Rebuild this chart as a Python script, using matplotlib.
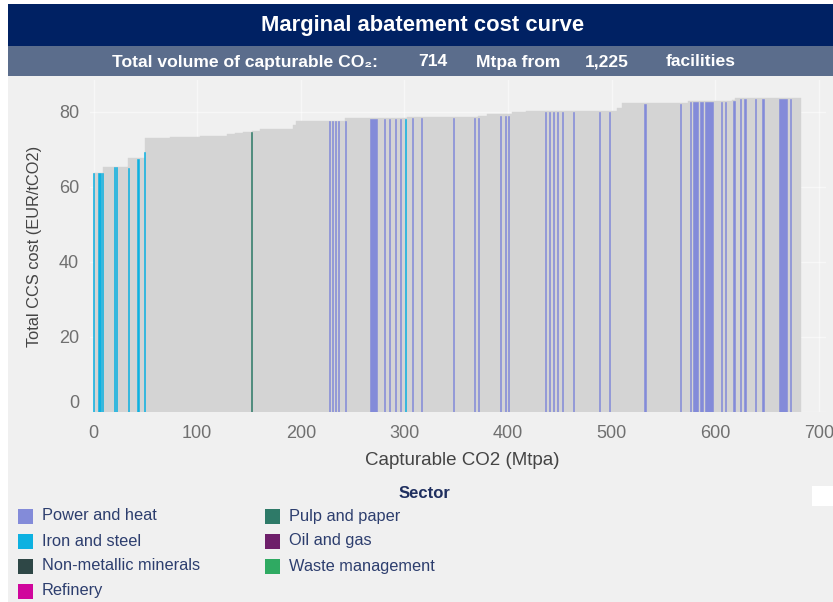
import matplotlib
matplotlib.use("Agg")
import matplotlib.pyplot as plt
from matplotlib.patches import Rectangle
from matplotlib.transforms import ScaledTranslation
import numpy as np

plt.rcParams['font.family'] = ['Liberation Sans', 'DejaVu Sans']

# ---------------- data ----------------
title = "Marginal abatement cost curve"
total_volume = "714"
n_facilities = "1,225"

sectors = ["Power and heat", "Iron and steel", "Non-metallic minerals", "Refinery",
           "Pulp and paper", "Oil and gas", "Waste management"]
sector_colors = ["#838bd9", "#0db1e1", "#2e4746", "#d0069c",
                 "#2e7a68", "#6e1f6a", "#2faa62"]

# grey envelope: step start (Mtpa) and cost (EUR/tCO2); last edge closes the curve
grey_start = [0.0, 9.2, 33.3, 49.7, 73.8, 102.8, 128.5, 136.5, 144.5, 152.6, 160.6,
              192.8, 195.4, 242.7, 302.2, 371.3, 379.4, 403.5, 417.3, 504.8, 509.6,
              573.9, 615.8, 619.0]
grey_cost = [63.6, 65.2, 67.6, 73.0, 73.4, 73.7, 74.0, 74.3, 74.6, 75.0, 75.4,
             76.5, 77.7, 78.3, 78.7, 79.0, 79.5, 79.9, 80.3, 81.0, 82.3,
             82.8, 83.2, 83.6]
grey_end = 682.6

# highlighted facilities: left edge (Mtpa), width (Mtpa), cost, sector
bar_left = [-0.3, 4.6, 8.5, 19.6, 22.0, 33.2, 42.3, 48.6, 300.2,
            152.2,
            227.5, 230.1, 232.7, 235.6, 242.2, 266.8, 280.6, 284.8, 291.2, 295.4,
            307.3, 316.3, 346.9, 366.8, 371.0, 392.2, 397.3, 399.9,
            435.6, 439.5, 443.7, 447.5, 451.8, 462.4, 487.5, 497.0,
            531.5, 565.6, 575.8, 578.7, 585.1, 590.0, 605.2, 609.4, 617.3,
            623.8, 627.9, 638.2, 645.3, 661.7, 672.0]
bar_width = [1.0, 2.3, 1.0, 1.0, 1.0, 1.0, 1.9, 1.0, 1.0,
             0.9,
             1.0, 1.0, 1.0, 1.0, 1.0, 6.5, 1.0, 1.0, 1.0, 1.0,
             1.0, 1.0, 1.0, 1.0, 1.0, 1.0, 1.0, 1.0,
             1.0, 1.0, 1.0, 1.0, 1.0, 1.0, 1.0, 1.6,
             1.3, 1.0, 1.0, 4.8, 3.3, 8.0, 1.0, 1.0, 1.3,
             1.0, 1.3, 1.0, 1.3, 7.1, 1.3]
bar_cost = [63.6, 63.6, 63.6, 65.2, 65.2, 65.0, 67.5, 69.4, 78.0,
            74.6,
            77.7, 77.7, 77.7, 77.7, 77.7, 78.0, 78.0, 78.0, 78.0, 78.0,
            78.3, 78.3, 78.4, 78.4, 78.4, 79.0, 79.0, 79.0,
            80.0, 80.0, 80.0, 80.0, 80.0, 80.0, 80.0, 80.0,
            82.0, 82.0, 82.7, 82.7, 82.7, 82.7, 82.7, 82.7, 83.0,
            83.4, 83.4, 83.4, 83.4, 83.4, 83.4]
bar_sector = (["Iron and steel"] * 8 + ["Iron and steel"] + ["Pulp and paper"]
              + ["Power and heat"] * 41)

x_ticks = [0, 100, 200, 300, 400, 500, 600, 700]
y_ticks = [0, 20, 40, 60, 80]

# ---------------- figure ----------------
W, H = 833, 602
fig = plt.figure(figsize=(W / 100, H / 100), dpi=100, facecolor="white")


def px_rect(x0, y0, x1, y1, color, z=-5):
    fig.patches.append(Rectangle((x0 / W, 1 - y1 / H), (x1 - x0) / W, (y1 - y0) / H,
                                 transform=fig.transFigure, facecolor=color,
                                 edgecolor="none", zorder=z))


def px_text(x, y, s, **kw):
    fig.text(x / W, 1 - y / H, s, **kw)


BG = "#f0f0f0"
px_rect(8, 76, W, H, BG)
px_rect(8, 4, W, 46, "#002163")
px_rect(8, 46, W, 76, "#5b6d8c")
px_rect(812, 486, W, 506, "white", z=1)

px_text(423, 25, title, color="white", fontsize=15.8, fontweight="bold",
        ha="center", va="center")
sub_kw = dict(color="white", fontsize=12.6, fontweight="bold", va="center", ha="left")
px_text(112, 62, "Total volume of capturable CO\u2082:", **sub_kw)
px_text(418, 62, total_volume, **sub_kw)
px_text(476, 62, "Mtpa from", **sub_kw)
px_text(585, 62, n_facilities, **sub_kw)
px_text(666, 62, "facilities", **sub_kw)

# axes placement (pixel box 90..826 x 80..412)
ax = fig.add_axes([90 / W, 1 - 412 / H, (826 - 90) / W, (412 - 80) / H])
ax.set_zorder(2)
ax.set_facecolor(BG)
ax.patch.set_alpha(0)

edges = list(grey_start) + [grey_end]
widths = np.diff(edges)
ax.bar(grey_start, grey_cost, width=widths, align="edge", color="#d4d4d4",
       edgecolor="#d4d4d4", linewidth=0.3, zorder=2)

cmap = dict(zip(sectors, sector_colors))
cols = [cmap[s] for s in bar_sector]
ax.bar(bar_left, bar_cost, width=bar_width, align="edge",
       color=cols, edgecolor=cols, linewidth=0.4, zorder=3)

ax.set_xlim(-3.4, 706.7)
ax.set_ylim(0, 88.5)
ax.set_xticks(x_ticks)
ax.set_yticks(y_ticks)
ax.grid(True, color="white", linewidth=1, alpha=0.5, zorder=0)
ax.set_axisbelow(True)
for sp in ax.spines.values():
    sp.set_visible(False)
ax.tick_params(length=0, labelsize=13, labelcolor="#707070")
ax.tick_params(axis="x", pad=9)
ax.tick_params(axis="y", pad=8)
# plotly-like lift of the zero label
lbl0 = ax.get_yticklabels()[0]
lbl0.set_transform(lbl0.get_transform() + ScaledTranslation(0, 0.1, fig.dpi_scale_trans))

ax.set_xlabel("Capturable CO2 (Mtpa)", fontsize=13.5, color="#444444", labelpad=7)
ax.xaxis.set_label_coords((462 - 90) / (826 - 90), -0.12)
ax.set_ylabel("Total CCS cost (EUR/tCO2)", fontsize=11.8, color="#444444", labelpad=12)

# legend (manual, plotly style)
px_text(424, 494, "Sector", color="#1f2f5f", fontsize=12, fontweight="bold",
        ha="center", va="center")
for i, (name, col) in enumerate(zip(sectors, sector_colors)):
    c, r = divmod(i, 4)
    x0 = 18 + c * 247
    yc = 516 + 25 * r
    px_rect(x0, yc - 7.5, x0 + 15, yc + 7.5, col, z=2)
    px_text(x0 + 24, yc, name, color="#2d3e6e", fontsize=11.8, va="center", ha="left")

fig.savefig("out.png", dpi=100, facecolor="white")
